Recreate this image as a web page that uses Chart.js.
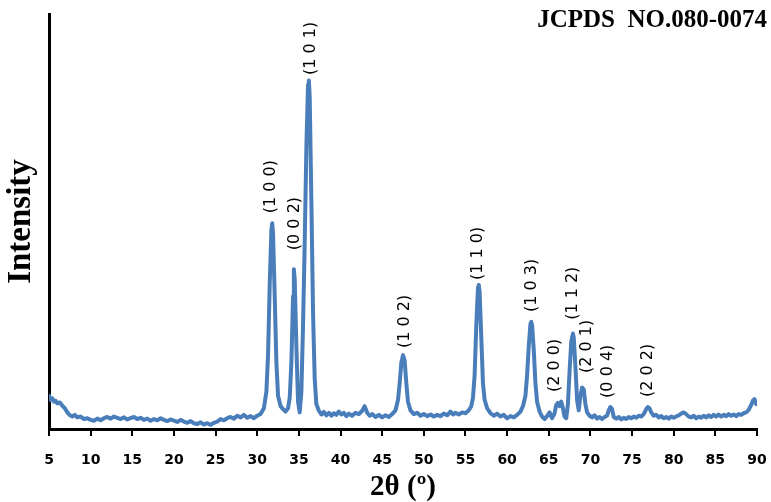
<!DOCTYPE html>
<html lang="en">
<head>
    <meta charset="UTF-8">
    <title>XRD pattern</title>
    <script src="https://cdn.jsdelivr.net/npm/chart.js"></script>
    <style>
        html, body { margin: 0; padding: 0; background: #fff; }
        #wrap { width: 771px; height: 502px; }
    </style>
</head>
<body>
    <div id="wrap"><canvas id="xrdChart" width="771" height="502"></canvas></div>
    <script>
        // diffraction angle (2 theta, degrees) and intensity
        const twoTheta = [
            5.0, 5.2, 5.4, 5.6, 5.8, 6.0, 6.3, 6.6, 6.9, 7.2, 7.5, 7.8, 8.1, 8.4, 8.8, 9.2, 9.6,
            10.0, 10.4, 10.8, 11.2, 11.6, 12.0, 12.4, 12.8, 13.2, 13.6, 14.0, 14.4, 14.8,
            15.2, 15.6, 16.0, 16.4, 16.8, 17.2, 17.6, 18.0, 18.4, 18.8, 19.2, 19.6,
            20.0, 20.4, 20.8, 21.2, 21.6, 22.0, 22.4, 22.8, 23.2, 23.6, 24.0, 24.4, 24.8,
            25.2, 25.6, 26.0, 26.4, 26.8, 27.2, 27.6, 28.0, 28.4, 28.8, 29.2, 29.6,
            30.0, 30.4, 30.8, 31.1, 31.3, 31.5, 31.7, 31.8, 31.9, 32.1, 32.3, 32.5, 32.8,
            33.1, 33.4, 33.7, 33.9, 34.1, 34.3, 34.4, 34.5, 34.7, 34.9,
            35.1, 35.3, 35.5, 35.7, 35.9, 36.1, 36.2, 36.3, 36.5, 36.7, 36.9,
            37.1, 37.4, 37.7, 38.0, 38.3, 38.6, 38.9, 39.2, 39.5, 39.8,
            40.1, 40.4, 40.7, 41.0, 41.4, 41.8, 42.2, 42.6, 42.9, 43.2, 43.5, 43.8, 44.2, 44.6,
            45.0, 45.4, 45.8, 46.2, 46.6, 46.9, 47.1, 47.3, 47.5, 47.7, 47.9, 48.1, 48.4, 48.8, 49.2, 49.6,
            50.0, 50.4, 50.8, 51.2, 51.6, 52.0, 52.4, 52.8, 53.2, 53.5, 53.8, 54.2, 54.6,
            55.0, 55.4, 55.7, 55.9, 56.1, 56.3, 56.5, 56.6, 56.7, 56.9, 57.1, 57.3, 57.6, 58.0, 58.4, 58.8, 59.2, 59.6,
            60.0, 60.4, 60.8, 61.2, 61.6, 61.9, 62.2, 62.4, 62.6, 62.8, 62.9, 63.0, 63.2, 63.4, 63.6, 63.9,
            64.2, 64.5, 64.8, 65.1, 65.4, 65.7, 65.9, 66.1, 66.3, 66.5, 66.7, 66.9,
            67.1, 67.3, 67.5, 67.7, 67.9, 68.0, 68.2, 68.4, 68.6, 68.8, 69.0, 69.2, 69.4, 69.6, 69.9,
            70.2, 70.5, 70.8, 71.1, 71.4, 71.7, 72.0, 72.2, 72.4, 72.6, 72.8, 73.1, 73.4, 73.7, 74.0, 74.3, 74.6, 74.9,
            75.2, 75.5, 75.8, 76.1, 76.4, 76.7, 76.9, 77.1, 77.3, 77.6, 77.9, 78.2, 78.5, 78.8, 79.1, 79.4, 79.7,
            80.0, 80.3, 80.6, 80.9, 81.2, 81.5, 81.8, 82.1, 82.4, 82.7, 83.0, 83.3, 83.6, 83.9, 84.2, 84.5, 84.8,
            85.1, 85.4, 85.7, 86.0, 86.3, 86.6, 86.9, 87.2, 87.5, 87.8, 88.1, 88.4, 88.7, 89.0, 89.3, 89.5, 89.7, 89.9
        ];
        const intensity = [
            8.0, 7.0, 7.4, 6.6, 6.8, 6.2, 6.4, 5.6, 5.0, 4.0, 3.3, 3.0, 3.4, 2.8, 3.0, 2.4, 2.6,
            2.2, 2.0, 2.5, 2.1, 2.6, 2.9, 2.5, 3.0, 2.7, 2.4, 2.8, 2.3, 2.6,
            2.9, 2.4, 2.7, 2.2, 2.5, 2.0, 2.4, 2.1, 2.6, 2.2, 1.9, 2.3,
            2.0, 1.7, 2.2, 1.8, 1.5, 1.9, 1.4, 1.2, 1.6, 1.1, 1.4, 1.0, 1.5,
            1.8, 2.4, 2.1, 2.6, 2.9, 2.5, 3.2, 2.8, 3.4, 2.7, 3.1, 2.6,
            3.2, 3.6, 5.0, 9.0, 18.0, 35.0, 48.0, 49.6, 47.0, 32.0, 16.0, 8.0, 5.5,
            4.8, 4.2, 5.0, 7.5, 16.0, 32.0, 38.5, 36.0, 20.0, 6.5,
            4.0, 9.0, 25.0, 45.0, 68.0, 83.0, 84.0, 80.0, 55.0, 28.0, 12.0,
            6.0, 4.4, 3.5, 4.1, 3.3, 3.9, 3.2, 3.8, 3.4, 4.2,
            3.5, 3.9, 3.1, 3.7, 3.2, 3.9, 3.6, 4.4, 5.5, 3.9, 3.2, 3.6, 2.9, 3.4,
            2.8, 3.3, 2.9, 3.6, 4.5, 7.0, 11.0, 16.0, 17.8, 16.5, 11.0, 6.5, 4.5, 3.6, 3.9, 3.2,
            3.6, 3.1, 3.5, 3.0, 3.4, 3.1, 3.7, 3.3, 4.2, 3.5, 3.9, 3.5, 4.0,
            3.8, 4.5, 5.5, 7.5, 13.0, 25.0, 34.0, 34.7, 33.0, 22.0, 11.0, 7.0, 5.0, 3.8, 3.2, 3.7, 3.0, 3.4,
            2.6, 3.1, 2.8, 3.4, 4.2, 5.5, 8.0, 13.0, 20.0, 25.3, 25.8, 25.0, 19.0, 11.0, 6.5, 4.2,
            3.0, 2.4, 3.1, 4.0, 2.6, 3.8, 5.8, 6.3, 5.5, 6.6, 5.0, 3.0,
            2.6, 6.0, 14.0, 21.0, 23.0, 22.0, 15.0, 7.0, 4.5, 8.0, 10.0, 9.5, 6.0, 4.0, 3.2,
            2.8, 3.3, 2.5, 2.9, 2.4, 2.9, 3.2, 4.5, 5.3, 4.8, 2.9, 2.5, 2.9, 2.3, 2.7, 2.4, 2.9, 2.6,
            3.0, 2.7, 3.2, 3.0, 3.6, 4.8, 5.3, 5.0, 4.0, 3.2, 3.4, 2.8, 3.1, 2.6, 2.9, 2.5, 3.0,
            2.7, 3.0, 3.3, 3.7, 4.0, 3.6, 3.0, 2.8, 3.2, 2.6, 3.0, 2.7, 3.2, 2.8, 3.3, 2.9, 3.4,
            3.0, 3.5, 3.0, 3.4, 3.1, 3.6, 3.2, 3.5, 3.1, 3.6, 3.4, 3.8, 4.0, 4.6, 5.8, 6.8, 7.2, 6.0
        ];

        // Miller index annotations: text, 2 theta and the intensity where the text starts
        const hklText = ["(1 0 0)", "(0 0 2)", "(1 0 1)", "(1 0 2)", "(1 1 0)", "(1 0 3)", "(2 0 0)", "(1 1 2)", "(2 0 1)", "(0 0 4)", "(2 0 2)"];
        const hklAngle = [31.6, 34.5, 36.4, 47.7, 56.5, 63.0, 65.7, 67.9, 69.6, 72.1, 76.9];
        const hklLevel = [52.0, 43.1, 85.3, 19.5, 35.9, 28.2, 8.9, 26.3, 13.5, 7.5, 7.7];

        const xTicks = [5, 10, 15, 20, 25, 30, 35, 40, 45, 50, 55, 60, 65, 70, 75, 80, 85, 90];

        const points = twoTheta.map((t, i) => ({ x: t, y: intensity[i] }));

        // draws the rotated hkl labels and the JCPDS card number
        const annotations = {
            id: "annotations",
            afterDatasetsDraw(chart) {
                const ctx = chart.ctx;
                const xs = chart.scales.x, ys = chart.scales.y;
                ctx.save();
                ctx.fillStyle = "#000";
                ctx.font = "16px 'DejaVu Sans', Verdana, sans-serif";
                ctx.textAlign = "left";
                ctx.textBaseline = "middle";
                hklText.forEach((txt, i) => {
                    ctx.save();
                    ctx.translate(xs.getPixelForValue(hklAngle[i]), ys.getPixelForValue(hklLevel[i]));
                    ctx.rotate(-Math.PI / 2);
                    ctx.fillText(txt, 0, 0);
                    ctx.restore();
                });
                ctx.font = "bold 25px 'Liberation Serif', 'Times New Roman', serif";
                ctx.textAlign = "right";
                ctx.textBaseline = "alphabetic";
                ctx.fillText("JCPDS  NO.080-0074", 767, 27);
                ctx.restore();
            }
        };

        new Chart(document.getElementById("xrdChart"), {
            type: "line",
            data: {
                datasets: [{
                    data: points,
                    borderColor: "#4a7ebb",
                    borderWidth: 4,
                    borderJoinStyle: "round",
                    borderCapStyle: "round",
                    pointRadius: 0,
                    tension: 0,
                    fill: false
                }]
            },
            options: {
                responsive: false,
                animation: false,
                layout: { padding: { left: 0, right: 14, top: 14, bottom: 0 } },
                plugins: {
                    legend: { display: false },
                    tooltip: { enabled: false }
                },
                scales: {
                    x: {
                        type: "linear",
                        min: 5,
                        max: 90,
                        afterBuildTicks: axis => { axis.ticks = xTicks.map(v => ({ value: v })); },
                        afterFit: axis => {
                            axis.height = 73;
                            axis.paddingLeft = 0;
                            axis.paddingRight = 0;
                        },
                        grid: {
                            drawOnChartArea: false,
                            drawTicks: true,
                            tickLength: 7,
                            color: "#000",
                            lineWidth: 2
                        },
                        border: { display: true, color: "#000", width: 3 },
                        ticks: {
                            color: "#000",
                            padding: 16,
                            maxRotation: 0,
                            font: { family: "'DejaVu Sans', Verdana, sans-serif", size: 14, weight: "bold" }
                        },
                        title: {
                            display: true,
                            text: "2θ (º)",
                            color: "#000",
                            padding: { top: 0, bottom: 0 },
                            font: { family: "'Liberation Serif', 'Times New Roman', serif", size: 29, weight: "bold", lineHeight: 1.0 }
                        }
                    },
                    y: {
                        min: 0,
                        max: 100,
                        afterFit: axis => { axis.width = 49; },
                        grid: { display: false, drawTicks: false, tickLength: 0 },
                        border: { display: true, color: "#000", width: 3 },
                        ticks: { display: false },
                        title: {
                            display: true,
                            text: "Intensity",
                            color: "#000",
                            padding: { top: 2, bottom: 6 },
                            font: { family: "'Liberation Serif', 'Times New Roman', serif", size: 33, weight: "bold" }
                        }
                    }
                }
            },
            plugins: [annotations]
        });
    </script>
</body>
</html>
